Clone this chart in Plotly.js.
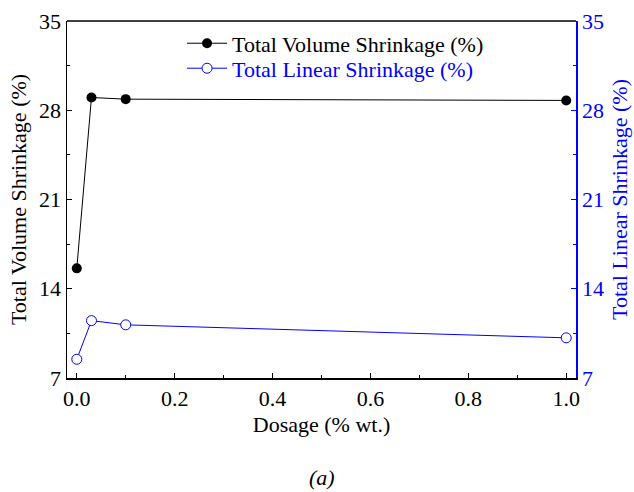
<!DOCTYPE html>
<html><head><meta charset="utf-8">
<script src="https://cdn.plot.ly/plotly-3.0.1.min.js"></script>
<style>html,body{margin:0;padding:0;background:#fff}#chart{width:634px;height:492px}</style>
</head><body><div id="chart"></div>
<script>
const dosage = [0.0, 0.03, 0.1, 1.0];
const volumeShrinkage = [15.6, 29.0, 28.87, 28.77];
const linearShrinkage = [8.47, 11.5, 11.17, 10.15];
const yTicks = [7, 14, 21, 28, 35];
const xTicks = [0.0, 0.2, 0.4, 0.6, 0.8, 1.0];
const xTickLabels = ['0.0', '0.2', '0.4', '0.6', '0.8', '1.0'];

const font = 'Liberation Serif, Times New Roman, serif';
const fs = 22;
const data = [
  {x: dosage, y: volumeShrinkage, name: 'Total Volume Shrinkage (%)', mode: 'lines+markers',
   line: {color: '#000', width: 1}, marker: {color: '#000', size: 10, symbol: 'circle'}, yaxis: 'y', legend: 'legend'},
  {x: dosage, y: linearShrinkage, name: 'Total Linear Shrinkage (%)', mode: 'lines+markers',
   line: {color: '#0000ff', width: 1}, marker: {color: '#fff', size: 10, symbol: 'circle', line: {color: '#0000ff', width: 1}}, yaxis: 'y2', legend: 'legend2'}
];
const layout = {
  width: 634, height: 492,
  margin: {l: 67, r: 58, t: 21, b: 114},
  paper_bgcolor: '#fff', plot_bgcolor: '#fff',
  font: {family: font, size: fs, color: '#000'},
  showlegend: true,
  legend: {x: 0.226, y: 0.996, xanchor: 'left', yanchor: 'top', bgcolor: 'rgba(0,0,0,0)',
    font: {family: font, size: fs, color: '#000'}, itemwidth: 40},
  legend2: {x: 0.226, y: 0.926, xanchor: 'left', yanchor: 'top', bgcolor: 'rgba(0,0,0,0)',
    font: {family: font, size: fs, color: '#0000ff'}, itemwidth: 40},
  xaxis: {range: [-0.02, 1.02], tickvals: xTicks, ticktext: xTickLabels, ticks: 'inside', ticklen: 5,
    tickcolor: '#000', showline: true, linecolor: '#000', linewidth: 1.5, mirror: false, showgrid: false, zeroline: false,
    minor: {ticks: 'inside', ticklen: 3, dtick: 0.1, tickcolor: '#000', showgrid: false},
    title: {text: 'Dosage (% wt.)', font: {family: font, size: fs}, standoff: 6}},
  yaxis: {range: [7, 35], tickvals: yTicks, ticks: 'inside', ticklen: 5, tickcolor: '#000',
    showline: true, linecolor: '#000', linewidth: 1.5, showgrid: false, zeroline: false,
    minor: {ticks: 'inside', ticklen: 3, dtick: 3.5, tickcolor: '#000', showgrid: false},
    title: {text: 'Total Volume Shrinkage (%)', font: {family: font, size: fs}, standoff: 6}},
  yaxis2: {range: [7, 35], tickvals: yTicks, overlaying: 'y', side: 'right', ticks: 'inside', ticklen: 5,
    tickcolor: '#0000ff', color: '#0000ff', showline: true, linecolor: '#0000ff', linewidth: 1.5,
    showgrid: false, zeroline: false,
    minor: {ticks: 'inside', ticklen: 3, dtick: 3.5, tickcolor: '#0000ff', showgrid: false},
    tickfont: {color: '#0000ff', family: font, size: fs},
    title: {text: 'Total Linear Shrinkage (%)', font: {family: font, size: fs, color: '#0000ff'}, standoff: 8}},
  shapes: [{type: 'line', xref: 'paper', yref: 'paper', x0: 0, x1: 1, y0: 1, y1: 1, line: {color: '#000', width: 1.5}}],
  annotations: [{text: '<i>(a)</i>', xref: 'paper', yref: 'paper', x: 0.5, y: -0.28, xanchor: 'center', yanchor: 'middle',
    showarrow: false, font: {family: font, size: 22, color: '#000'}}]
};
Plotly.newPlot('chart', data, layout, {displayModeBar: false, staticPlot: true});
</script></body></html>
